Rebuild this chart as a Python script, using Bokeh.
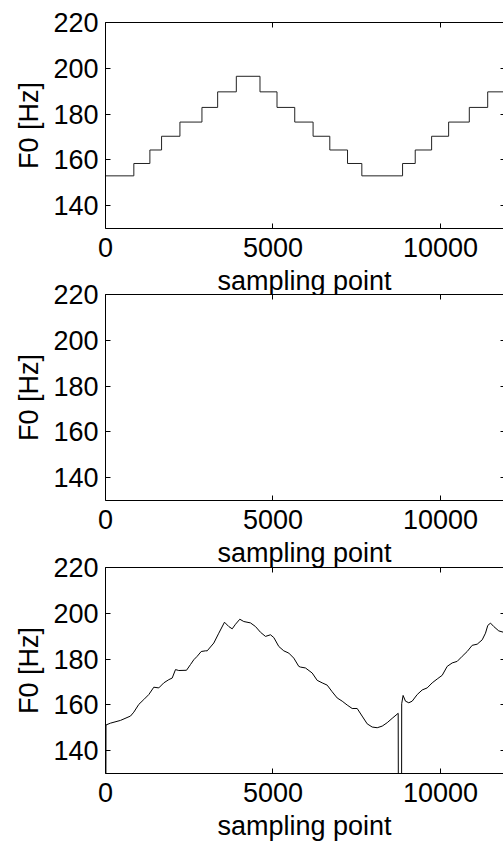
from bokeh.plotting import figure
from bokeh.layouts import column
from bokeh.models import Range1d, LinearAxis, FixedTicker
from bokeh.embed import file_html
from bokeh.resources import INLINE

# ---- data ----
x_ticks = [0, 5000, 10000]
y_ticks = [140, 160, 180, 200, 220]
x_max = 11881
y_min, y_max = 130, 220

# panel 1: target F0 (step contour)
step_x = [0, 846, 1325, 1674, 2222, 2879, 3348, 3905, 4612, 5120, 5649, 6197,
          6696, 7225, 7652, 8868, 9246, 9735, 10243, 10860, 11409, 12000]
step_f0 = [153.0, 158.4, 164.3, 170.3, 176.5, 182.9, 189.7, 196.5, 189.7, 182.9,
           176.5, 170.3, 164.3, 158.4, 153.0, 158.4, 164.3, 170.3, 176.5, 182.9,
           189.7, 189.7]

# panel 2: empty
empty_x = []
empty_f0 = []

# panel 3: estimated F0
est_x = [0, 15, 149, 448, 746, 845, 994, 1143, 1293, 1442, 1591, 1740, 1890, 1991,
         2090, 2188, 2418, 2537, 2636, 2737, 2857, 2985, 3036, 3233, 3382, 3552,
         3681, 3782, 3881, 4009, 4128, 4328, 4478, 4627, 4776, 4925, 5024, 5173,
         5322, 5472, 5621, 5770, 5821, 5970, 6170, 6319, 6469, 6618, 6767, 6916,
         7066, 7215, 7364, 7513, 7660, 7812, 7961, 8111, 8260, 8409, 8558, 8737,
         8760, 8830, 8842, 8884, 8955, 9054, 9155, 9305, 9454, 9603, 9752, 9902,
         10051, 10200, 10349, 10499, 10648, 10797, 10946, 11096, 11245, 11343,
         11412, 11493, 11591, 11740, 11881]
est_f0 = [0, 151.2, 152.0, 153.2, 155.1, 156.8, 160.2, 162.3, 164.5, 167.7, 167.4,
          169.6, 171.0, 171.7, 175.4, 175.0, 175.1, 177.6, 179.7, 181.2, 183.3,
          183.6, 183.6, 187.0, 191.3, 196.1, 194.2, 193.2, 195.2, 197.4, 196.4,
          195.8, 194.2, 191.7, 189.9, 190.6, 189.4, 185.5, 183.6, 182.6, 180.4,
          176.8, 176.5, 176.1, 173.9, 170.7, 169.6, 168.6, 165.7, 163.0, 161.6,
          159.9, 158.4, 158.4, 155.1, 151.7, 150.3, 150.0, 150.7, 152.2, 154.1,
          156.3, 0, 0, 160.5, 164.1, 161.6, 160.9, 161.6, 164.5, 166.5, 167.4,
          169.6, 171.3, 172.9, 176.8, 178.3, 179.0, 181.2, 183.3, 186.0, 186.5,
          188.4, 191.3, 194.7, 195.7, 194.2, 192.3, 191.7]

FONT = "Liberation Sans"
FS = "27px"


def make_fig(height, top, bottom, margin_top):
    p = figure(width=503, height=height,
               x_range=Range1d(0, x_max), y_range=Range1d(y_min, y_max),
               output_backend="svg", toolbar_location=None,
               min_border_left=105, min_border_right=0,
               min_border_top=top, min_border_bottom=bottom,
               x_axis_label="sampling point", y_axis_label="F0 [Hz]",
               background_fill_color="white", border_fill_color=None,
               outline_line_color=None)
    if margin_top:
        p.margin = (margin_top, 0, 0, 0)
    p.xgrid.visible = False
    p.ygrid.visible = False
    p.xaxis.ticker = FixedTicker(ticks=x_ticks)
    p.yaxis.ticker = FixedTicker(ticks=y_ticks)
    for ax in list(p.xaxis) + list(p.yaxis):
        ax.axis_line_color = "black"
        ax.axis_line_width = 1
        ax.major_tick_in = 5
        ax.major_tick_out = 0
        ax.minor_tick_line_color = None
        ax.major_tick_line_color = "black"
        ax.major_label_text_font = FONT
        ax.major_label_text_font_size = FS
        ax.major_label_text_color = "black"
        ax.axis_label_text_font = FONT
        ax.axis_label_text_font_size = FS
        ax.axis_label_text_font_style = "normal"
        ax.axis_label_text_color = "black"
    p.xaxis.major_label_standoff = 9
    p.xaxis.axis_label_standoff = 6
    p.yaxis.major_label_standoff = 7
    p.yaxis.axis_label_standoff = 6

    # box-style top spine and right-hand ticks (no labels drawn)
    top_ax = LinearAxis(ticker=FixedTicker(ticks=x_ticks), major_tick_in=5,
                        major_tick_out=0, minor_tick_line_color=None,
                        major_label_text_color=None, major_label_text_font_size="1px",
                        major_label_standoff=0, axis_line_color="black")
    p.add_layout(top_ax, "above")
    right_ax = LinearAxis(ticker=FixedTicker(ticks=y_ticks), major_tick_in=3,
                          major_tick_out=0, minor_tick_line_color=None,
                          major_label_text_color=None, major_label_text_font_size="1px",
                          major_label_standoff=0, axis_line_color=None)
    p.add_layout(right_ax, "right")
    return p


p1 = make_fig(303, 22, 75, 0)
p1.step(step_x, step_f0, mode="after", line_color="#222222", line_width=1)

p2 = make_fig(297, 16, 75, -25)
p2.line(empty_x, empty_f0, line_color="black", line_width=1)

p3 = make_fig(297, 16, 75, -24)
p3.line(est_x, est_f0, line_color="black", line_width=1)

layout = column(p1, p2, p3, spacing=0)
open("out.html", "w").write(file_html(layout, INLINE))
